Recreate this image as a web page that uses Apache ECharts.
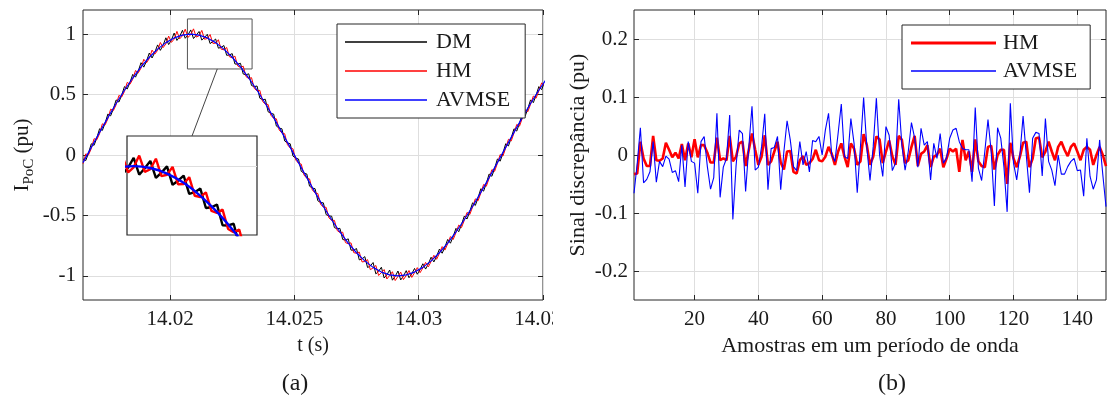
<!DOCTYPE html>
<html>
<head>
<meta charset="utf-8">
<script src="https://cdn.jsdelivr.net/npm/echarts@6/dist/echarts.min.js"></script>
<style>
html,body{margin:0;padding:0;background:#fff;}
#c{width:1108px;height:401px;}
</style>
</head>
<body>
<div id="c"></div>
<script>
// ---------- (a) time-domain current at the PoC ----------
const T0 = 14.0165;          // time of first sample (s)
const DT = 1 / 9000;         // sample period (150 samples per 60 Hz cycle)
const AVMSE_STEP = 3;        // AVMSE curve listed every 3rd sample

const dmValues = [
-0.033,-0.046,0.016,0.093,0.080,0.141,0.217,0.203,0.264,0.339,
0.324,0.383,0.456,0.438,0.495,0.566,0.546,0.600,0.667,0.644,
0.695,0.764,0.727,0.778,0.844,0.803,0.850,0.911,0.866,0.909,
0.970,0.914,0.952,1.009,0.948,0.981,1.032,0.966,0.994,1.035,
0.964,0.991,1.022,0.951,0.973,0.999,0.922,0.939,0.960,0.884,
0.891,0.906,0.825,0.828,0.839,0.753,0.752,0.759,0.670,0.664,
0.672,0.575,0.566,0.571,0.470,0.458,0.461,0.358,0.344,0.339,
0.239,0.223,0.217,0.116,0.100,0.093,-0.009,-0.026,-0.033,-0.135,
-0.151,-0.157,-0.258,-0.274,-0.279,-0.379,-0.393,-0.396,-0.493,-0.505,
-0.506,-0.601,-0.610,-0.607,-0.699,-0.705,-0.694,-0.787,-0.788,-0.774,
-0.868,-0.860,-0.841,-0.931,-0.919,-0.890,-0.984,-0.962,-0.929,-1.018,
-0.991,-0.952,-1.036,-1.004,-0.960,-1.034,-1.001,-0.957,-1.016,-0.983,
-0.939,-0.987,-0.949,-0.900,-0.944,-0.901,-0.846,-0.885,-0.838,-0.779,
-0.813,-0.762,-0.699,-0.730,-0.674,-0.607,-0.635,-0.576,-0.506,-0.530,
-0.468,-0.396,-0.418,-0.354,-0.279,-0.299,-0.233,-0.157,-0.176,-0.110,
-0.033,-0.051,0.016,0.093,0.075,0.141,0.217,0.198,0.264,0.339,
0.319,0.383,0.456,0.433,0.495,0.566,0.541,0.600
];

const hmValues = [
-0.073,0.009,0.001,0.053,0.135,0.126,0.177,0.258,0.249,0.299,
0.379,0.368,0.416,0.493,0.480,0.526,0.601,0.585,0.627,0.699,
0.680,0.719,0.792,0.763,0.799,0.868,0.835,0.866,0.931,0.889,
0.920,0.984,0.932,0.959,1.023,0.961,0.987,1.041,0.974,0.995,
1.044,0.976,0.987,1.031,0.958,0.964,0.997,0.924,0.925,0.954,
0.876,0.871,0.890,0.813,0.804,0.818,0.737,0.724,0.735,0.649,
0.632,0.640,0.551,0.531,0.535,0.443,0.421,0.418,0.329,0.304,
0.299,0.208,0.182,0.176,0.085,0.058,0.051,-0.041,-0.068,-0.075,
-0.166,-0.192,-0.198,-0.289,-0.314,-0.319,-0.408,-0.431,-0.433,-0.520,
-0.541,-0.541,-0.625,-0.642,-0.639,-0.725,-0.734,-0.727,-0.808,-0.814,
-0.803,-0.885,-0.881,-0.866,-0.949,-0.935,-0.914,-0.997,-0.974,-0.948,
-1.026,-0.997,-0.966,-1.039,-1.005,-0.969,-1.031,-0.997,-0.956,-1.013,
-0.974,-0.932,-0.974,-0.935,-0.889,-0.926,-0.881,-0.830,-0.863,-0.814,
-0.758,-0.787,-0.734,-0.675,-0.699,-0.642,-0.580,-0.601,-0.541,-0.475,
-0.493,-0.431,-0.363,-0.379,-0.314,-0.244,-0.258,-0.192,-0.121,-0.135,
-0.068,0.004,-0.009,0.058,0.130,0.116,0.182,0.253,0.239,0.304,
0.374,0.358,0.421,0.488,0.470,0.531,0.596,0.575
];

const avmseValues = [
-0.063,0.063,0.187,0.309,0.426,0.536,0.637,0.729,0.809,0.876,
0.930,0.969,0.992,1.0,0.992,0.969,0.930,0.876,0.809,0.729,
0.637,0.536,0.426,0.309,0.187,0.063,-0.063,-0.187,-0.309,-0.426,
-0.536,-0.637,-0.729,-0.809,-0.876,-0.930,-0.969,-0.992,-1.0,-0.992,
-0.969,-0.930,-0.876,-0.809,-0.729,-0.637,-0.536,-0.426,-0.309,-0.187,
-0.063,0.063,0.187,0.309,0.426,0.536,0.637
];

const xTicksA = [14.02, 14.025, 14.03, 14.035];
const yTicksA = [-1, -0.5, 0, 0.5, 1];
const zoomBoxT = [14.0207, 14.0233];   // inset window (time)
const zoomBoxY = [0.712, 1.126];       // inset window (current)

// ---------- (b) discrepancy over one wave period ----------
const hmDisc = [
-0.033,-0.032,0.023,-0.006,-0.019,-0.019,0.033,-0.009,-0.010,-0.006,
0.021,0.009,-0.004,0.004,-0.006,0.019,-0.009,0.020,-0.004,0.027,
-0.004,0.017,0.017,0.004,-0.013,-0.013,0.030,-0.009,-0.006,-0.009,
0.033,-0.011,-0.003,0.020,0.023,-0.019,0.009,0.037,0.009,-0.017,
-0.003,0.034,-0.017,-0.011,0.006,0.023,-0.013,-0.025,0.006,0.007,
-0.029,-0.032,-0.009,-0.002,-0.017,-0.014,-0.007,0.009,-0.009,-0.011,
-0.003,0.014,0.002,-0.017,0.006,0.020,-0.003,-0.021,0.020,0.011,
-0.017,-0.011,0.036,0.017,-0.017,-0.003,0.032,0.027,-0.014,0.006,
0.025,-0.002,-0.017,0.033,0.026,-0.014,-0.009,0.014,0.033,-0.019,
0.002,0.006,0.017,-0.021,-0.003,0.000,0.011,-0.021,-0.006,0.011,
0.006,0.011,-0.029,0.026,-0.009,0.006,-0.029,0.027,-0.011,-0.019,
-0.021,0.014,0.016,-0.025,0.000,0.009,0.009,-0.050,0.021,-0.006,
-0.021,-0.003,0.021,0.023,-0.021,-0.006,0.029,0.030,-0.004,0.006,
0.023,0.006,-0.009,0.014,0.023,0.009,-0.002,0.014,0.020,0.006,
-0.009,0.009,0.014,0.009,-0.017,0.000,0.014,0.000,-0.019
];

const avmseDisc = [
-0.066,-0.015,0.047,-0.048,-0.042,-0.029,0.023,-0.047,-0.011,-0.020,
-0.002,-0.007,-0.030,-0.027,-0.046,0.017,-0.055,0.023,-0.011,-0.014,
-0.066,0.023,0.032,-0.020,-0.059,-0.039,0.072,-0.073,-0.021,-0.006,
0.069,-0.111,-0.019,0.043,0.037,-0.063,0.014,0.084,-0.026,-0.021,
0.014,0.071,-0.060,0.011,0.013,0.032,-0.060,0.006,0.059,0.026,
-0.020,-0.027,0.023,-0.017,0.006,-0.029,0.025,0.023,0.032,0.000,
0.043,0.072,0.000,-0.011,0.037,0.088,-0.003,-0.006,0.063,0.020,
-0.065,0.014,0.099,0.014,-0.044,0.014,0.098,0.000,-0.037,0.049,
0.034,-0.027,-0.014,0.096,0.017,-0.026,0.006,0.056,0.029,-0.021,
0.046,0.017,0.023,-0.043,0.020,-0.006,0.037,-0.014,-0.005,0.029,
0.043,0.046,0.023,0.011,0.009,0.009,-0.046,0.082,-0.023,-0.044,
0.006,0.061,0.006,-0.088,0.047,0.029,-0.021,-0.098,0.089,-0.014,
-0.043,0.000,0.067,0.000,-0.065,0.029,0.039,0.037,-0.036,0.063,
-0.011,-0.026,-0.053,0.000,-0.033,-0.033,-0.020,-0.011,-0.006,-0.027,
-0.026,-0.071,0.029,-0.037,-0.059,-0.043,0.026,-0.034,-0.089
];

const xTicksB = [20, 40, 60, 80, 100, 120, 140];
const yTicksB = [-0.2, -0.1, 0, 0.1, 0.2];

// ---------- drawing ----------
const FONT = "'Liberation Serif', 'Times New Roman', serif";
const TXT = '#1a1a1a';
const GRIDC = '#dedede';
const BOX = '#262626';
const RED = '#ff0000', BLUE = '#0000ff', BLACK = '#000000';

const tPairs = (vals, step) => vals.map((v, i) => [T0 + i * step * DT, v]);
const nPairs = vals => vals.map((v, i) => [i + 1, v]);
const fmt = v => String(+(+v).toFixed(4));
const lineIcon = (w, h) => 'path://M0,0H' + w + 'V' + h + 'H0Z';

function bottomX(grid, min, max, ticks, name, nameGap, fs) {
  return {
    type: 'value', gridIndex: grid, min, max, position: 'bottom',
    axisLine: { show: false, onZero: false },
    axisTick: { show: true, inside: true, length: 5, customValues: ticks, lineStyle: { color: BOX } },
    axisLabel: { customValues: ticks, fontFamily: FONT, fontSize: 21, color: TXT, margin: 9, formatter: fmt },
    splitLine: { show: true, lineStyle: { color: GRIDC, width: 1 } },
    name, nameLocation: 'middle', nameGap,
    nameTextStyle: { fontFamily: FONT, fontSize: fs, color: TXT }
  };
}
function topX(grid, min, max, ticks) {
  return {
    type: 'value', gridIndex: grid, min, max, position: 'top',
    axisLine: { show: false, onZero: false },
    axisTick: { show: true, inside: true, length: 5, customValues: ticks, lineStyle: { color: BOX } },
    axisLabel: { show: false }, splitLine: { show: false }
  };
}
function leftY(grid, min, max, ticks, name, nameGap, nameStyle, margin) {
  return {
    type: 'value', gridIndex: grid, min, max, position: 'left',
    axisLine: { show: false, onZero: false },
    axisTick: { show: true, inside: true, length: 5, customValues: ticks, lineStyle: { color: BOX } },
    axisLabel: { customValues: ticks, fontFamily: FONT, fontSize: 21, color: TXT, margin, formatter: fmt },
    splitLine: { show: true, lineStyle: { color: GRIDC, width: 1 } },
    name, nameLocation: 'middle', nameGap, nameRotate: 90, nameTextStyle: nameStyle
  };
}
function rightY(grid, min, max, ticks) {
  return {
    type: 'value', gridIndex: grid, min, max, position: 'right',
    axisLine: { show: false, onZero: false },
    axisTick: { show: true, inside: true, length: 5, customValues: ticks, lineStyle: { color: BOX } },
    axisLabel: { show: false }, splitLine: { show: false }
  };
}

const chart = echarts.init(document.getElementById('c'), null, { renderer: 'canvas' });

const option = {
  animation: false,
  backgroundColor: '#fff',
  grid: [
    { left: 83, top: 10, width: 460, height: 290, show: true, borderColor: BOX, borderWidth: 1, backgroundColor: 'transparent' },
    { left: 127, top: 136, width: 130, height: 99, show: true, borderColor: BOX, borderWidth: 1.2, backgroundColor: '#fff', z: 10 },
    { left: 634, top: 10, width: 472, height: 290, show: true, borderColor: BOX, borderWidth: 1, backgroundColor: 'transparent' }
  ],
  xAxis: [
    bottomX(0, 14.0165, 14.035, xTicksA, 't (s)', 36, 20),
    topX(0, 14.0165, 14.035, xTicksA),
    { type: 'value', gridIndex: 1, min: zoomBoxT[0], max: zoomBoxT[1], show: false, z: 11, axisLine: { onZero: false } },
    bottomX(2, 1, 149, xTicksB, 'Amostras em um período de onda', 35, 22),
    topX(2, 1, 149, xTicksB)
  ],
  yAxis: [
    leftY(0, -1.2, 1.2, yTicksA, '{a|I}{b|PoC}{a| (pu)}', 46, {
      color: TXT,
      rich: {
        a: { fontFamily: FONT, fontSize: 21, color: TXT, lineHeight: 30, verticalAlign: 'middle' },
        b: { fontFamily: FONT, fontSize: 15, color: TXT, lineHeight: 15, verticalAlign: 'bottom' }
      }
    }, 7),
    rightY(0, -1.2, 1.2, yTicksA),
    {
      type: 'value', gridIndex: 1, min: zoomBoxY[0], max: zoomBoxY[1], z: 11,
      axisLine: { show: false, onZero: false },
      axisTick: { show: false, customValues: [1] },
      axisLabel: { show: false },
      splitLine: { show: true, lineStyle: { color: GRIDC, width: 1 } }
    },
    leftY(2, -0.25, 0.25, yTicksB, 'Sinal discrepância (pu)', 45,
      { fontFamily: FONT, fontSize: 22, color: TXT }, 6),
    rightY(2, -0.25, 0.25, yTicksB)
  ],
  legend: [
    {
      data: [
        { name: 'DM', icon: lineIcon(82, 1.4) },
        { name: 'HM', icon: lineIcon(82, 1.4) },
        { name: 'AVMSE', icon: lineIcon(82, 1.4) }
      ],
      orient: 'vertical', left: 337, top: 24,
      itemWidth: 82, itemHeight: 14, itemGap: 7, padding: [7, 15, 7, 8],
      borderColor: BOX, borderWidth: 1, backgroundColor: '#fff', borderRadius: 0,
      textStyle: { fontFamily: FONT, fontSize: 22, color: TXT, lineHeight: 22, padding: [0, 0, 0, 4] },
      selectedMode: false
    },
    {
      data: [
        { name: 'HM ', icon: lineIcon(85, 3) },
        { name: 'AVMSE ', icon: lineIcon(85, 1.3) }
      ],
      orient: 'vertical', left: 902, top: 25,
      itemWidth: 85, itemHeight: 14, itemGap: 6, padding: [7, 13, 7, 9],
      borderColor: BOX, borderWidth: 1, backgroundColor: '#fff', borderRadius: 0,
      formatter: n => n.trim(),
      textStyle: { fontFamily: FONT, fontSize: 22, color: TXT, lineHeight: 22, padding: [0, 0, 0, 2] },
      selectedMode: false
    }
  ],
  series: [
    { name: 'DM', type: 'line', xAxisIndex: 0, yAxisIndex: 0, data: tPairs(dmValues, 1),
      symbol: 'none', lineStyle: { color: BLACK, width: 1 }, itemStyle: { color: BLACK },
      markArea: { silent: true, itemStyle: { color: 'rgba(0,0,0,0)', borderColor: '#555', borderWidth: 1 },
        data: [[{ coord: [zoomBoxT[0], zoomBoxY[1]] }, { coord: [zoomBoxT[1], zoomBoxY[0]] }]] } },
    { name: 'HM', type: 'line', xAxisIndex: 0, yAxisIndex: 0, data: tPairs(hmValues, 1),
      symbol: 'none', lineStyle: { color: RED, width: 1 }, itemStyle: { color: RED } },
    { name: 'AVMSE', type: 'line', xAxisIndex: 0, yAxisIndex: 0, data: tPairs(avmseValues, AVMSE_STEP),
      symbol: 'none', lineStyle: { color: BLUE, width: 1.2 }, itemStyle: { color: BLUE } },

    { name: 'DM', type: 'line', xAxisIndex: 2, yAxisIndex: 2, data: tPairs(dmValues, 1), z: 12,
      symbol: 'none', lineStyle: { color: BLACK, width: 2.4 }, itemStyle: { color: BLACK } },
    { name: 'HM', type: 'line', xAxisIndex: 2, yAxisIndex: 2, data: tPairs(hmValues, 1), z: 12,
      symbol: 'none', lineStyle: { color: RED, width: 2.4 }, itemStyle: { color: RED } },
    { name: 'AVMSE', type: 'line', xAxisIndex: 2, yAxisIndex: 2, data: tPairs(avmseValues, AVMSE_STEP), z: 12,
      symbol: 'none', smooth: 0.3, lineStyle: { color: BLUE, width: 2.4 }, itemStyle: { color: BLUE } },

    { name: 'HM ', type: 'line', xAxisIndex: 3, yAxisIndex: 3, data: nPairs(hmDisc),
      symbol: 'none', lineStyle: { color: RED, width: 2.6 }, itemStyle: { color: RED } },
    { name: 'AVMSE ', type: 'line', xAxisIndex: 3, yAxisIndex: 3, data: nPairs(avmseDisc),
      symbol: 'none', lineStyle: { color: BLUE, width: 1.1 }, itemStyle: { color: BLUE } }
  ],
  graphic: [
    { id: 'lblA', type: 'text', x: 295, y: 384, z: 100,
      style: { text: '(a)', fontFamily: FONT, fontSize: 24, fill: TXT, textAlign: 'center', textVerticalAlign: 'middle' } },
    { id: 'lblB', type: 'text', x: 892, y: 384, z: 100,
      style: { text: '(b)', fontFamily: FONT, fontSize: 24, fill: TXT, textAlign: 'center', textVerticalAlign: 'middle' } },
    { id: 'cropA', type: 'rect', shape: { x: 553, y: 306, width: 21, height: 28 }, z: 100, silent: true,
      style: { fill: '#fff' } }
  ]
};

chart.setOption(option);

// connector from the zoom box (main axes) to the inset (inset axes)
const connT = 14.0220;
const p1 = chart.convertToPixel({ gridIndex: 0 }, [connT - 0.0001, zoomBoxY[0]]);
const p2 = chart.convertToPixel({ gridIndex: 1 }, [connT, zoomBoxY[1]]);
chart.setOption({
  graphic: [
    { id: 'conn', type: 'line', z: 50, silent: true,
      shape: { x1: p1[0], y1: p1[1], x2: p2[0], y2: p2[1] },
      style: { stroke: '#444', lineWidth: 1 } }
  ]
});
</script>
</body>
</html>
